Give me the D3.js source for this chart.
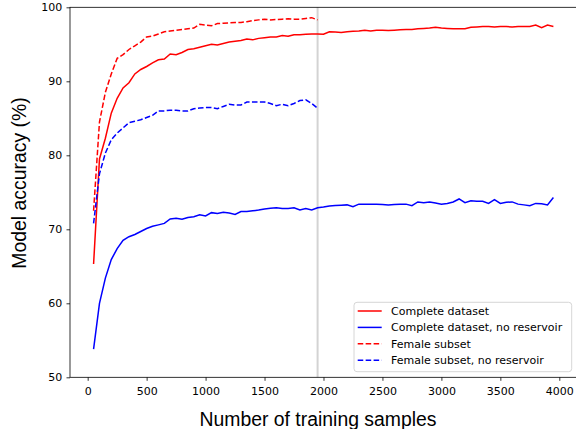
<!DOCTYPE html>
<html>
<head>
<meta charset="utf-8">
<script src="https://cdn.jsdelivr.net/npm/d3@7"></script>
<style>
  body { margin: 0; background: #fff; }
  svg { display: block; }
</style>
</head>
<body>
<div id="chart"></div>
<script>
// training set sizes
const samples = [
  50, 100, 150, 200, 250, 300, 350, 400, 450, 500,
  550, 600, 650, 700, 750, 800, 850, 900, 950, 1000,
  1050, 1100, 1150, 1200, 1250, 1300, 1350, 1400, 1450, 1500,
  1550, 1600, 1650, 1700, 1750, 1800, 1850, 1900, 1950, 2000,
  2050, 2100, 2150, 2200, 2250, 2300, 2350, 2400, 2450, 2500,
  2550, 2600, 2650, 2700, 2750, 2800, 2850, 2900, 2950, 3000,
  3050, 3100, 3150, 3200, 3250, 3300, 3350, 3400, 3450, 3500,
  3550, 3600, 3650, 3700, 3750, 3800, 3850, 3900, 3950
];
const femaleSamples = samples.slice(0, 39); // 50 .. 1950

const complete = [
  65.3, 79.5, 82.3, 85.7, 87.7, 89.1, 89.8, 91.0, 91.6, 92.0,
  92.5, 92.9, 93.0, 93.7, 93.6, 93.9, 94.3, 94.4, 94.6, 94.8,
  95.0, 94.9, 95.1, 95.3, 95.4, 95.5, 95.7, 95.6, 95.8, 95.9,
  96.0, 96.0, 96.2, 96.1, 96.3, 96.3, 96.35, 96.4, 96.4, 96.35,
  96.7, 96.65, 96.6, 96.7, 96.75, 96.8, 96.9, 96.8, 96.9, 96.9,
  96.85, 96.9, 96.95, 97.0, 97.0, 97.1, 97.15, 97.2, 97.3, 97.2,
  97.15, 97.1, 97.1, 97.1, 97.3, 97.35, 97.4, 97.4, 97.35, 97.4,
  97.4, 97.35, 97.4, 97.4, 97.4, 97.6, 97.25, 97.6, 97.4
];
const completeNoRes = [
  53.8, 60.0, 63.4, 65.9, 67.4, 68.5, 69.0, 69.3, 69.7, 70.1,
  70.4, 70.6, 70.8, 71.4, 71.5, 71.35, 71.6, 71.7, 71.97, 71.8,
  72.25, 72.15, 72.3, 72.2, 72.0, 72.4, 72.4, 72.5, 72.6, 72.75,
  72.85, 72.9, 72.8, 72.8, 72.9, 72.6, 72.8, 72.6, 72.9, 73.0,
  73.15, 73.2, 73.25, 73.3, 73.05, 73.4, 73.4, 73.4, 73.4, 73.35,
  73.3, 73.35, 73.4, 73.4, 73.2, 73.7, 73.6, 73.7, 73.55, 73.4,
  73.5, 73.7, 74.1, 73.6, 73.85, 73.8, 73.8, 73.5, 74.0, 73.5,
  73.65, 73.7, 73.4, 73.3, 73.2, 73.5, 73.45, 73.3, 74.3
];
const female = [
  72.5, 84.5, 88.5, 91.0, 93.1, 93.6, 94.3, 94.8, 95.3, 96.0,
  96.1, 96.4, 96.7, 96.8, 96.9, 97.0, 97.1, 97.2, 97.7, 97.6,
  97.5, 97.8, 97.85, 97.9, 97.95, 97.95, 98.05, 98.2, 98.3, 98.4,
  98.3, 98.35, 98.4, 98.45, 98.4, 98.4, 98.5, 98.6, 98.3
];
const femaleNoRes = [
  70.8, 77.5, 80.3, 82.1, 83.0, 83.7, 84.4, 84.6, 84.8, 85.1,
  85.4, 86.0, 86.0, 86.1, 86.1, 86.0, 86.0, 86.3, 86.4, 86.45,
  86.45, 86.3, 86.6, 86.9, 86.8, 86.8, 87.2, 87.2, 87.2, 87.2,
  87.0, 86.7, 86.9, 86.7, 87.0, 87.4, 87.5, 87.0, 86.35
];

const xTicks = [0, 500, 1000, 1500, 2000, 2500, 3000, 3500, 4000];
const yTicks = [50, 60, 70, 80, 90, 100];
const femaleLimit = 1950;

const series = [
  {name: "Complete dataset", xs: samples, ys: complete, color: "#ff0000", dash: null},
  {name: "Complete dataset, no reservoir", xs: samples, ys: completeNoRes, color: "#0000ff", dash: null},
  {name: "Female subset", xs: femaleSamples, ys: female, color: "#ff0000", dash: "5.55,2.4"},
  {name: "Female subset, no reservoir", xs: femaleSamples, ys: femaleNoRes, color: "#0000ff", dash: "5.55,2.4"}
];

const W = 576, H = 429;
const plot = {left: 70, top: 7.3, right: 576.4, bottom: 377.3};
const tickFont = "DejaVu Sans, sans-serif";

const svg = d3.select("#chart").append("svg")
    .attr("width", W)
    .attr("height", H);

const x = d3.scaleLinear().domain([-150, 4145]).range([plot.left, plot.right]);
const y = d3.scaleLinear().domain([50, 100]).range([plot.bottom, plot.top]);

// vertical marker where the female subset stops
svg.append("line")
    .attr("x1", x(femaleLimit)).attr("x2", x(femaleLimit))
    .attr("y1", plot.top).attr("y2", plot.bottom)
    .attr("stroke", "#d3d3d3")
    .attr("stroke-width", 2);

const line = d3.line()
    .x(d => x(d[0]))
    .y(d => y(d[1]));

series.forEach(s => {
    svg.append("path")
        .datum(s.xs.map((v, i) => [v, s.ys[i]]))
        .attr("fill", "none")
        .attr("stroke", s.color)
        .attr("stroke-width", 1.5)
        .attr("stroke-dasharray", s.dash)
        .attr("d", line);
});

// frame
svg.append("rect")
    .attr("x", plot.left).attr("y", plot.top)
    .attr("width", plot.right - plot.left).attr("height", plot.bottom - plot.top)
    .attr("fill", "none")
    .attr("stroke", "#000")
    .attr("stroke-width", 0.8);

const xAxis = svg.append("g")
    .attr("transform", `translate(0,${plot.bottom})`)
    .call(d3.axisBottom(x).tickValues(xTicks).tickFormat(d3.format("d"))
        .tickSize(3.5).tickPadding(6.4).tickSizeOuter(0));
xAxis.select(".domain").remove();

const yAxis = svg.append("g")
    .attr("transform", `translate(${plot.left},0)`)
    .call(d3.axisLeft(y).tickValues(yTicks).tickFormat(d3.format("d"))
        .tickSize(3.5).tickPadding(4.2).tickSizeOuter(0));
yAxis.select(".domain").remove();

svg.selectAll(".tick line").attr("stroke", "#000").attr("stroke-width", 0.8);
svg.selectAll(".tick text")
    .attr("fill", "#000")
    .style("font-family", tickFont)
    .style("font-size", "11px");

// axis titles
svg.append("text")
    .attr("x", 318)
    .attr("y", 425.5)
    .attr("text-anchor", "middle")
    .style("font-family", "Liberation Sans, Arial, sans-serif")
    .style("font-size", "19.4px")
    .text("Number of training samples");

svg.append("text")
    .attr("transform", "translate(25.5,183) rotate(-90)")
    .attr("text-anchor", "middle")
    .style("font-family", "Liberation Sans, Arial, sans-serif")
    .style("font-size", "19.4px")
    .text("Model accuracy (%)");

// legend
const legend = svg.append("g");
legend.append("rect")
    .attr("x", 354).attr("y", 302.3)
    .attr("width", 217.7).attr("height", 69.4)
    .attr("rx", 3)
    .attr("fill", "#fff").attr("fill-opacity", 0.8)
    .attr("stroke", "#cccccc").attr("stroke-width", 0.8);

series.forEach((s, i) => {
    const cy = 311 + i * 16.4;
    legend.append("line")
        .attr("x1", 357.7).attr("x2", 381.7)
        .attr("y1", cy).attr("y2", cy)
        .attr("stroke", s.color)
        .attr("stroke-width", 1.5)
        .attr("stroke-dasharray", s.dash);
    legend.append("text")
        .attr("x", 391)
        .attr("y", cy + 4)
        .style("font-family", tickFont)
        .style("font-size", "11px")
        .text(s.name);
});
</script>
</body>
</html>
